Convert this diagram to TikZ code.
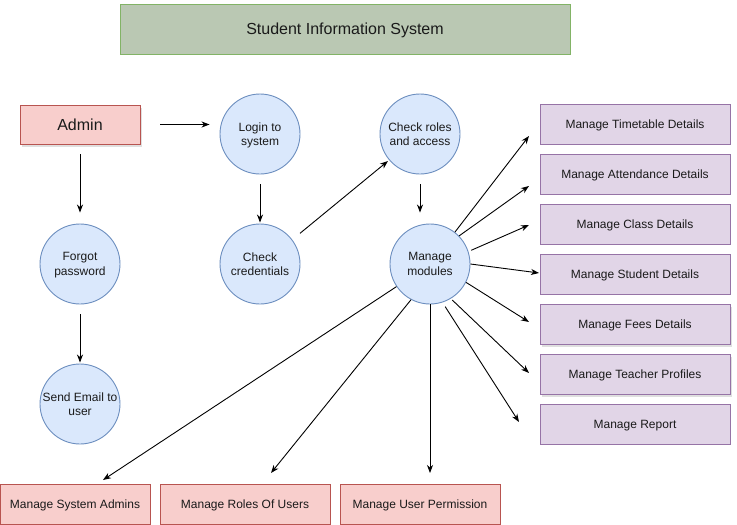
\documentclass[tikz,border=0pt]{standalone}
\usepackage{fontspec}
\setmainfont{Liberation Sans}
\usetikzlibrary{arrows.meta,shadows}
\definecolor{titlefill}{HTML}{BAC8B3}
\definecolor{titleline}{HTML}{82B366}
\definecolor{redfill}{HTML}{F8CECC}
\definecolor{redline}{HTML}{B85450}
\definecolor{bluefill}{HTML}{DAE8FC}
\definecolor{blueline}{HTML}{6C8EBF}
\definecolor{purfill}{HTML}{E1D5E7}
\definecolor{purline}{HTML}{9673A6}
\definecolor{txt}{HTML}{1A1A1A}
\tikzset{
  every node/.style={text=txt,text depth=0pt},
  titlebox/.style={draw=titleline,fill=titlefill,line width=0.9pt,minimum width=450pt,minimum height=50pt,font=\fontsize{16}{19}\selectfont},
  redbox/.style={draw=redline,fill=redfill,line width=0.9pt,minimum height=40pt,font=\fontsize{12}{14}\selectfont},
  purbox/.style={draw=purline,fill=purfill,line width=0.9pt,minimum width=190pt,minimum height=40pt,font=\fontsize{12}{14}\selectfont},
  proc/.style={circle,draw=blueline,fill=bluefill,line width=0.9pt,minimum size=80pt,inner sep=0pt,align=center,font=\fontsize{12}{14.5}\selectfont},
  shd/.style={drop shadow={shadow xshift=2pt,shadow yshift=-3pt,opacity=0.25}},
  arr/.style={draw=black,line width=0.9pt,-{Stealth[length=8pt,width=6pt,inset=2.5pt]}},
}
\begin{document}
\begin{tikzpicture}[x=1pt,y=-1pt]
\useasboundingbox (0,0) rectangle (737,525);
\node[titlebox] (title) at (345,29) {Student Information System};
\node[redbox,shd,minimum width=120pt,minimum height=39pt,font=\fontsize{16}{19}\selectfont] (admin) at (80,124.5) {Admin};
\node[proc] (login) at (260,134) {Login to\\system};
\node[proc] (cc) at (260,264) {Check\\credentials};
\node[proc] (forgot) at (80,264) {Forgot\\password};
\node[proc] (email) at (80,404) {Send Email to\\user};
\node[proc] (cr) at (420,134) {Check roles\\and access};
\node[proc] (mm) at (430,264) {Manage\\modules};
\node[purbox] (tt) at (635,124) {Manage Timetable Details};
\node[purbox] (att) at (635,174) {Manage Attendance Details};
\node[purbox] (cls) at (635,224) {Manage Class Details};
\node[purbox] (stu) at (635,274) {Manage Student Details};
\node[purbox,shd] (fee) at (635,324) {Manage Fees Details};
\node[purbox,shd] (tea) at (635,374) {Manage Teacher Profiles};
\node[purbox] (rep) at (635,424) {Manage Report};
\node[redbox,minimum width=150pt] (sa) at (75,504) {Manage System Admins};
\node[redbox,minimum width=170pt] (ro) at (245,504) {Manage Roles Of Users};
\node[redbox,minimum width=160pt] (up) at (420,504) {Manage User Permission};
% arrow tips
\coordinate (t1) at (529,136);
\coordinate (t2) at (529,186);
\coordinate (t3) at (529,225);
\coordinate (t4) at (539,273);
\coordinate (t5) at (529,322);
\coordinate (t6) at (529,373);
\coordinate (t7) at (519,422);
\coordinate (ta) at (103,480);
\coordinate (tb) at (271,473);
\coordinate (tc) at (430,473);
\coordinate (tcr) at (388,161);
% connectors
\draw[arr,shorten <=20pt,shorten >=10pt] (admin.east) -- (admin.east -| login.west);
\draw[arr,shorten <=10pt,shorten >=11pt] (admin.south) -- (forgot.north);
\draw[arr,shorten <=10pt,shorten >=1pt] (forgot.south) -- (email.north);
\draw[arr,shorten <=10pt,shorten >=1pt] (login.south) -- (cc.north);
\draw[arr,shorten <=10pt] (cc.37) -- (tcr);
\draw[arr,shorten <=10pt,shorten >=11pt] (cr.south) -- (cr.south |- mm.north);
\draw[arr] (mm.52) -- (t1);
\draw[arr] (mm.44) -- (t2);
\draw[arr,shorten <=3pt] (mm.18) -- (t3);
\draw[arr] (mm.east) -- (t4);
\draw[arr] (mm.-27) -- (t5);
\draw[arr,shorten <=2pt] (mm.-59) -- (t6);
\draw[arr,shorten <=5pt] (mm.-72) -- (t7);
\draw[arr] (mm.214) -- (ta);
\draw[arr] (mm.242) -- (tb);
\draw[arr] (mm.south) -- (tc);
\end{tikzpicture}
\end{document}
